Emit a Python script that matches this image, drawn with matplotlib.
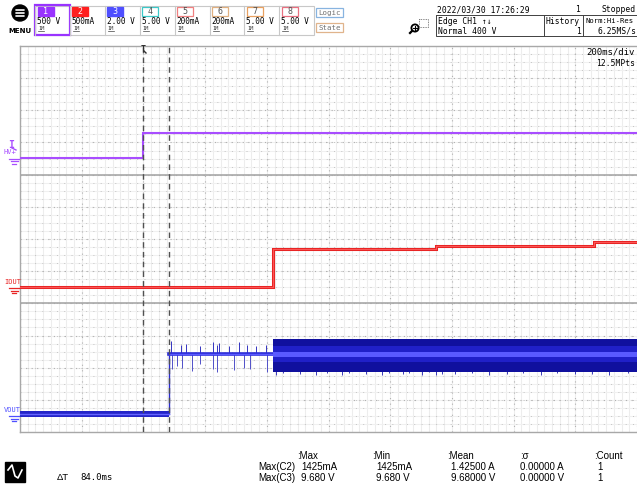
import numpy as np
import matplotlib
matplotlib.use('Agg')
import matplotlib.pyplot as plt
from matplotlib.patches import Rectangle, Circle

W, H = 637, 486
MONO = 'DejaVu Sans Mono'
NARROW = 'Liberation Sans'

# time axis in ms (200 ms/div, trigger at t = 0)
t_left, t_right = -400, 1600
cursor_t = [0, 84]
delta_t = '84.0ms'

# trace levels in screen divisions (0 = bottom of grid, 12 = top)
ch1_t = [-400, 0, 0, 421, 421, 1600]
ch1_v = [8.51, 8.51, 9.31, 9.31, 9.29, 9.29]

ch2_t = [-400, 421, 421, 950, 950, 1462, 1462, 1600]
ch2_v = [4.51, 4.51, 5.69, 5.69, 5.78, 5.78, 5.91, 5.91]

ch3_t = [-400, 84, 84, 1600]
ch3_v = [0.56, 0.56, 2.42, 2.42]
ch3_burst_t = [421, 1600]
ch3_burst_top = [2.88, 2.88]
ch3_burst_bot = [1.88, 1.88]

# spikes on ch3 between the step and the burst
ch3_up_t = [90, 123, 139, 182, 224, 240, 246, 279, 311, 337, 366, 399]
ch3_up_v = [2.82, 2.70, 2.75, 2.66, 2.80, 2.72, 2.78, 2.68, 2.80, 2.70, 2.66, 2.72]
ch3_dn_t = [94, 110, 126, 156, 182, 224, 240, 295, 327, 344, 402]
ch3_dn_v = [1.95, 2.05, 2.00, 1.90, 2.10, 1.95, 1.88, 1.92, 2.00, 1.96, 1.86]
# spikes under the burst
burst_dn_t = [431, 451, 506, 561, 596, 645, 668, 723, 775, 797, 840, 862, 904, 927, 950,
              969, 1010, 1065, 1120, 1180, 1230, 1290, 1340, 1400, 1455, 1510, 1570]
burst_dn_v = [1.76, 1.82, 1.80, 1.78, 1.84, 1.77, 1.83, 1.80, 1.76, 1.84, 1.79, 1.82, 1.78, 1.85,
              1.77, 1.81, 1.79, 1.83, 1.78, 1.80, 1.84, 1.77, 1.82, 1.79, 1.81, 1.78, 1.83]

# header
ch_names = ['1', '2', '3', '4', '5', '6', '7', '8']
ch_scales = ['500 V', '500mA', '2.00 V', '5.00 V', '200mA', '200mA', '5.00 V', '5.00 V']
ch_colors = ['#9933ff', '#ff1f1f', '#4f4fff', '#3cc8c8', '#f08080', '#e0b080', '#e8a060', '#e87080']
ch_filled = [True, True, True, False, False, False, False, False]

# measurements
meas_cols = [':Max', ':Min', ':Mean', ':\u03c3', ':Count']
meas_rows = ['Max(C2)', 'Max(C3)']
meas_vals = [['1425mA', '1425mA', '1.42500 A', '0.00000 A', '1'],
             ['9.680 V', '9.680 V', '9.68000 V', '0.00000 V', '1']]

fig = plt.figure(figsize=(W / 100, H / 100), dpi=100)
fig.patch.set_facecolor('white')

# ---- waveform area
gx0, gx1, gy0, gy1 = 20, 637, 46, 432
ax = fig.add_axes([gx0 / W, 1 - gy1 / H, (gx1 - gx0) / W, (gy1 - gy0) / H])
ax.set_xlim(t_left, t_right)
ax.set_ylim(0, 12)
ax.set_xticks([])
ax.set_yticks([])
for s in ['top', 'bottom', 'left']:
    ax.spines[s].set_color('#a8a8a8')
    ax.spines[s].set_linewidth(1)
ax.spines['right'].set_visible(False)

# grid
ax.vlines(np.arange(t_left, t_right + 1, 25), 0, 12, color='#ededed', lw=0.8, zorder=0)
ax.hlines(np.arange(0, 12.01, 0.25), t_left, t_right, color='#f0f0f0', lw=0.8, zorder=0)
ax.hlines(np.arange(0, 12.01, 0.25), t_left, t_right, color='#c4c4c4', lw=0.7,
          linestyles=(0, (1, 6.5)), zorder=0)
ax.vlines(np.arange(t_left, t_right + 1, 200), 0, 12, color='#b0b0b0', lw=0.8,
          linestyles=(0, (1, 4)), zorder=0)
ax.hlines(np.arange(1, 12, 1), t_left, t_right, color='#b0b0b0', lw=0.8,
          linestyles=(0, (1, 4)), zorder=0)
ax.hlines([4, 8], t_left, t_right, color='#a8a8a8', lw=1.2, zorder=1)

# ch1
ax.plot(ch1_t, ch1_v, color='#a84dff', lw=1.5, solid_joinstyle='miter', zorder=3)

# ch2
ax.plot(ch2_t, ch2_v, color='#e82424', lw=2.2, solid_joinstyle='miter', zorder=3)
ax.plot(ch2_t, ch2_v, color='#ff6060', lw=0.6, zorder=3)

# ch3
ax.fill_between(ch3_t[:2], np.array(ch3_v[:2]) - 0.09, np.array(ch3_v[:2]) + 0.09,
                color='#2424c8', lw=0, zorder=3)
ax.plot(ch3_t[:2], ch3_v[:2], color='#6464ff', lw=1.0, zorder=4)
ax.plot(ch3_t[1:3], ch3_v[1:3], color='#2a2ad0', lw=1.0, zorder=3)
ax.vlines(ch3_up_t, 2.42, ch3_up_v, color='#3434c0', lw=0.7, zorder=3)
ax.vlines(ch3_dn_t, ch3_dn_v, 2.42, color='#5050c8', lw=0.7, zorder=3)
ax.vlines(burst_dn_t, burst_dn_v, 2.42, color='#3a3ab8', lw=0.7, zorder=3)
ax.plot(ch3_t[2:], ch3_v[2:], color='#2a2ad8', lw=2.6, zorder=3)
ax.plot(ch3_t[2:], ch3_v[2:], color='#5a5aff', lw=1.0, zorder=4)
ax.fill_between(ch3_burst_t, ch3_burst_bot, ch3_burst_top, color='#10109e', lw=0, zorder=4)
ax.fill_between(ch3_burst_t, [2.18, 2.18], [2.66, 2.66], color='#2020c8', lw=0, zorder=4)
ax.fill_between(ch3_burst_t, [2.34, 2.34], [2.50, 2.50], color='#5a5aff', lw=0, zorder=5)

# cursors
for ct in cursor_t:
    ax.axvline(ct, color='#505050', lw=1.0, linestyle=(0, (4, 3)), zorder=6)

# ---- overlay in pixel coordinates
ov = fig.add_axes([0, 0, 1, 1], zorder=10)
ov.set_xlim(0, W)
ov.set_ylim(H, 0)
ov.axis('off')
ov.patch.set_alpha(0)


def ground(x, y, color):
    for dy, hw in [(0, 5), (2.5, 3.5), (5, 1.8)]:
        ov.plot([x - hw, x + hw], [y + dy, y + dy], color=color, lw=0.9)


# channel markers
ov.text(8, 145, 'I', color='#a84dff', fontsize=7, family=MONO, fontweight='bold', va='center')
ov.plot([12, 16], [148, 150], color='#a84dff', lw=1)
ov.text(4, 152, 'HV+', color='#a84dff', fontsize=5, family=MONO, va='center')
ground(14, 159, '#a84dff')
ov.text(4, 282, 'IOUT', color='#e82424', fontsize=5, family=MONO, va='center')
ground(14, 288, '#e82424')
ov.text(4, 410, 'VOUT', color='#4f4fff', fontsize=5, family=MONO, va='center')
ground(14, 416, '#4f4fff')

# trigger marker
ov.text(141, 50, 'T', color='#303030', fontsize=6, family=MONO, fontweight='bold', va='center')
ov.plot([144, 146], [51, 53], color='#303030', lw=1)

ov.text(635, 52, '200ms/div', fontsize=6.5, family=MONO, ha='right', va='center')
ov.text(635, 63, '12.5MPts', fontsize=5.8, family=MONO, ha='right', va='center')

# menu button
ov.add_patch(Circle((20, 13), 8, color='black'))
for dy in [-3, 0, 3]:
    ov.plot([16, 24], [13 + dy, 13 + dy], color='white', lw=1.2, solid_capstyle='round')
ov.text(20, 31, 'MENU', fontsize=5, fontweight='bold', ha='center', va='center')

# channel boxes
bx0, bw = 35, 34.9
ov.add_patch(Rectangle((bx0, 6), bw * 8, 29, fill=False, ec='#c8c8c8', lw=0.8))
for i in range(8):
    x = bx0 + i * bw
    ov.plot([x, x], [6, 35], color='#c8c8c8', lw=0.8)
    if ch_filled[i]:
        ov.add_patch(Rectangle((x + 2.5, 7), 16, 9.5, color=ch_colors[i]))
        ov.text(x + 10.5, 12, ch_names[i], color='white', fontsize=6, family=MONO,
                ha='center', va='center')
    else:
        ov.add_patch(Rectangle((x + 2.5, 7), 16, 9.5, fill=False, ec=ch_colors[i], lw=0.9))
        ov.text(x + 10.5, 12, ch_names[i], color='#505050', fontsize=6, family=MONO,
                ha='center', va='center')
    ov.text(x + 2, 21, ch_scales[i], fontsize=5.6, family=MONO, va='center')
    ov.text(x + 3, 29, '1M', fontsize=3.8, family=MONO, va='center', color='#404040')
    ov.plot([x + 3, x + 9], [31.5, 31.5], color='#404040', lw=0.5)
ov.add_patch(Rectangle((bx0, 5.5), bw, 30, fill=False, ec='#9933ff', lw=1.6))

# logic / state
ov.add_patch(Rectangle((316, 8.5), 27, 8.5, fill=False, ec='#88b4e0', lw=0.9))
ov.text(329.5, 12.8, 'Logic', fontsize=5.3, family=MONO, ha='center', va='center', color='#707070')
ov.add_patch(Rectangle((316, 23.5), 27, 8.5, fill=False, ec='#e0b48c', lw=0.9))
ov.text(329.5, 27.8, 'State', fontsize=5.3, family=MONO, ha='center', va='center', color='#707070')

# zoom icon
ov.add_patch(Circle((415, 28), 3.6, fill=False, ec='black', lw=1.3))
ov.plot([413, 417], [28, 28], color='black', lw=0.8)
ov.plot([415, 415], [26, 30], color='black', lw=0.8)
ov.plot([412, 410], [31, 33], color='black', lw=1.6)
ov.add_patch(Rectangle((419, 19), 9, 8, fill=False, ec='#606060', lw=0.6, linestyle=(0, (1, 1))))

# trigger / acquisition info
ov.text(437, 10, '2022/03/30 17:26:29', fontsize=5.8, family=MONO, va='center')
ov.text(580, 10, '1', fontsize=5.8, family=MONO, ha='right', va='center')
ov.text(636, 10, 'Stopped', fontsize=5.8, family=MONO, ha='right', va='center')
ov.add_patch(Rectangle((436, 15.5), 205, 21, fill=False, ec='#404040', lw=0.7))
ov.plot([544, 544], [15.5, 36.5], color='#404040', lw=0.7)
ov.plot([583, 583], [15.5, 36.5], color='#404040', lw=0.7)
ov.text(438, 21, 'Edge CH1 \u2191\u2193', fontsize=5.8, family=MONO, va='center')
ov.text(438, 31, 'Normal 400 V', fontsize=5.8, family=MONO, va='center')
ov.text(546, 21, 'History', fontsize=5.8, family=MONO, va='center')
ov.text(581, 31, '1', fontsize=5.8, family=MONO, ha='right', va='center')
ov.text(585, 21, 'Norm:Hi-Res', fontsize=5.2, family=MONO, va='center')
ov.text(636, 31, '6.25MS/s', fontsize=5.8, family=MONO, ha='right', va='center')

# bottom-left icon and delta T
ov.add_patch(Rectangle((5, 462), 20, 20, color='black'))
ov.plot([8, 12, 15, 18, 22], [470, 465, 476, 478, 470], color='white', lw=1.2)
ov.text(57, 477, '\u0394T', fontsize=6.8, family=NARROW, va='center')
ov.text(80, 477, delta_t, fontsize=6.5, family=MONO, va='center')

# measurement table
col_x = [297, 372, 447, 520, 594]
val_x = [301, 376, 451, 520, 597]
for cx, name in zip(col_x, meas_cols):
    ov.text(cx, 456, name, fontsize=7, family=NARROW, va='center')
for r, (row, vals) in enumerate(zip(meas_rows, meas_vals)):
    y = 467 + r * 11
    ov.text(258, y, row, fontsize=7, family=NARROW, va='center')
    for vx, v in zip(val_x, vals):
        ov.text(vx, y, v, fontsize=7, family=NARROW, va='center')

fig.savefig('out.png', dpi=100, facecolor='white')
